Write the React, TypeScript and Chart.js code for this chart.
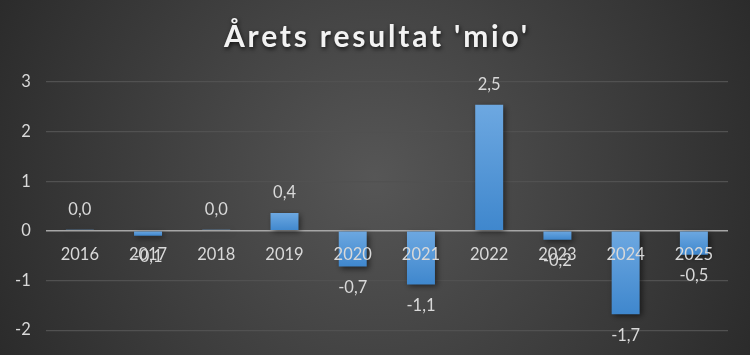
import React, { useEffect, useRef } from "react";
import { Chart, registerables } from "chart.js";

Chart.register(...registerables);

const TITLE = "Årets resultat 'mio'";
const categories = ["2016", "2017", "2018", "2019", "2020", "2021", "2022", "2023", "2024", "2025"];
const results = [0.02, -0.1, 0.02, 0.36, -0.72, -1.08, 2.54, -0.18, -1.68, -0.48];
const yTicks = { min: -2, max: 3, step: 1 };

const FONT = "Lato, 'Open Sans', sans-serif";

const fmt = (v: number) => v.toFixed(1).replace(".", ",").replace(/^-0,0$/, "0,0");

const bgPlugin = {
  id: "bg",
  beforeDraw(chart: any) {
    const { ctx, width, height } = chart;
    ctx.save();
    const g = ctx.createRadialGradient(width / 2, height / 2, 0, width / 2, height / 2, width * 0.62);
    g.addColorStop(0, "#565656");
    g.addColorStop(1, "#262626");
    ctx.fillStyle = g;
    ctx.fillRect(0, 0, width, height);
    ctx.restore();
  },
};

const titlePlugin = {
  id: "titleDraw",
  afterDraw(chart: any) {
    const { ctx, width } = chart;
    ctx.save();
    ctx.font = `bold 30px ${FONT}`;
    (ctx as any).letterSpacing = "2.8px";
    ctx.textAlign = "center";
    ctx.textBaseline = "middle";
    ctx.shadowColor = "rgba(0,0,0,0.75)";
    ctx.shadowBlur = 4;
    ctx.shadowOffsetX = 1;
    ctx.shadowOffsetY = 2;
    ctx.fillStyle = "#f2f2f2";
    ctx.fillText(TITLE, width / 2 + 2, 37);
    ctx.restore();
  },
};

const shadowPlugin = {
  id: "barShadow",
  beforeDatasetDraw(chart: any) {
    const ctx = chart.ctx;
    ctx.save();
    ctx.shadowColor = "rgba(0,0,0,0.55)";
    ctx.shadowBlur = 6;
    ctx.shadowOffsetX = 2;
    ctx.shadowOffsetY = 2;
  },
  afterDatasetDraw(chart: any) {
    chart.ctx.restore();
  },
};

const labelPlugin = {
  id: "valueLabels",
  afterDatasetsDraw(chart: any) {
    const { ctx } = chart;
    const meta = chart.getDatasetMeta(0);
    const data = chart.data.datasets[0].data as number[];
    ctx.save();
    ctx.font = `16.5px ${FONT}`;
    ctx.fillStyle = "#d9d9d9";
    ctx.textAlign = "center";
    ctx.textBaseline = "middle";
    meta.data.forEach((el: any, i: number) => {
      const v = data[i];
      const y = v >= 0 ? el.y - 20 : el.y + 21;
      ctx.fillText(fmt(v), el.x, y);
    });
    ctx.restore();
  },
};

export default function App() {
  const ref = useRef<HTMLCanvasElement>(null);
  useEffect(() => {
    document.body.style.margin = "0";
    const chart = new Chart(ref.current!, {
      type: "bar",
      data: {
        labels: categories,
        datasets: [
          {
            data: results,
            categoryPercentage: 1,
            barPercentage: 0.41,
            backgroundColor: (c: any) => {
              const ch = c.chart;
              const ys = ch.scales?.y;
              if (!ys || c.type !== "data") return "#5b9bd5";
              const v = c.raw as number;
              const a = ys.getPixelForValue(v);
              const b = ys.getPixelForValue(0);
              if (!isFinite(a) || !isFinite(b)) return "#5b9bd5";
              const top = Math.min(a, b);
              const bot = Math.max(a, b);
              if (bot - top < 1.5) return "#6da8e1";
              const g = ch.ctx.createLinearGradient(0, top, 0, bot);
              g.addColorStop(0, "#6da8e1");
              g.addColorStop(1, "#3f87cd");
              return g;
            },
            borderWidth: 0,
          },
        ],
      },
      options: {
        animation: false,
        responsive: false,
        maintainAspectRatio: false,
        layout: { padding: { top: 82, right: 22, bottom: -5, left: 0 } },
        plugins: { legend: { display: false }, tooltip: { enabled: false }, title: { display: false } },
        scales: {
          x: {
            position: { y: 0 } as any,
            grid: { display: false, drawTicks: false },
            border: { display: false },
            ticks: { z: 1, color: "#d9d9d9", font: { family: FONT, size: 16.5 }, padding: 14, maxRotation: 0, autoSkip: false },
          },
          y: {
            min: yTicks.min,
            max: yTicks.max,
            ticks: { stepSize: yTicks.step, color: "#d9d9d9", font: { family: FONT, size: 16.5 }, padding: 15 },
            grid: {
              drawTicks: false,
              color: (c: any) => (c.tick && c.tick.value === 0 ? "#a6a6a6" : "#515151"),
              lineWidth: (c: any) => (c.tick && c.tick.value === 0 ? 1.5 : 1.2),
            },
            border: { display: false },
          },
        },
      },
      plugins: [bgPlugin, shadowPlugin, labelPlugin, titlePlugin],
    });
    chart.update();
    return () => chart.destroy();
  }, []);
  return <canvas ref={ref} width={750} height={355} style={{ display: "block" }} />;
}
